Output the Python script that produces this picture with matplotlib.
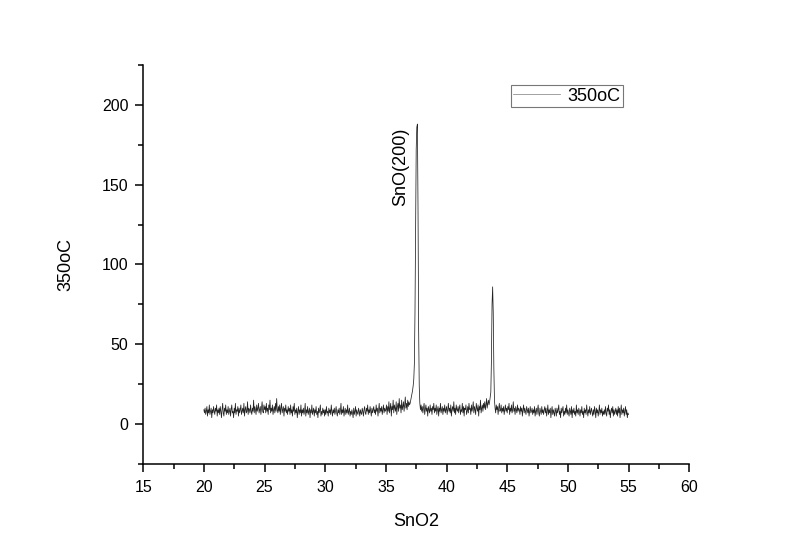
import numpy as np
import matplotlib
matplotlib.use("Agg")
import matplotlib.pyplot as plt
from matplotlib.ticker import MultipleLocator

plt.rcParams["font.family"] = ["Liberation Sans", "DejaVu Sans"]

# XRD scan, 20..55 deg, step 0.05 (one row per degree)
two_theta_start = 20.0
two_theta_step = 0.05
intensity = [
    9, 7, 10, 6, 8, 11, 5, 9, 7, 12, 6, 8, 10, 4, 9, 7, 11, 8, 6, 10,        # 20
    8, 12, 5, 9, 7, 10, 6, 11, 8, 4, 9, 13, 7, 5, 10, 8, 12, 6, 9, 7,        # 21
    11, 6, 8, 10, 5, 9, 12, 7, 8, 4, 10, 7, 13, 6, 9, 8, 11, 5, 10, 7,       # 22
    9, 12, 6, 8, 10, 7, 13, 5, 9, 11, 7, 8, 14, 6, 10, 9, 7, 12, 8, 6,       # 23
    10, 8, 15, 7, 11, 9, 6, 12, 8, 10, 13, 7, 9, 11, 6, 10, 14, 8, 7, 12,    # 24
    9, 11, 7, 13, 8, 10, 6, 12, 9, 15, 7, 10, 8, 12, 6, 9, 11, 7, 13, 8,     # 25
    16, 9, 7, 11, 8, 12, 6, 10, 13, 7, 9, 11, 5, 10, 8, 12, 7, 9, 6, 11,     # 26
    8, 10, 6, 12, 7, 9, 5, 11, 8, 13, 6, 9, 7, 10, 4, 8, 11, 6, 9, 7,        # 27
    12, 5, 9, 7, 10, 6, 8, 13, 5, 9, 7, 11, 6, 8, 10, 4, 9, 7, 12, 6,        # 28
    8, 10, 5, 9, 7, 11, 6, 8, 4, 10, 7, 9, 12, 5, 8, 6, 10, 7, 9, 5,         # 29
    9, 6, 11, 7, 8, 5, 10, 7, 9, 6, 12, 8, 5, 9, 7, 10, 6, 8, 11, 7,         # 30
    5, 9, 7, 10, 6, 8, 13, 6, 9, 7, 11, 5, 8, 10, 6, 9, 7, 12, 6, 8,         # 31
    10, 5, 8, 6, 9, 7, 4, 10, 6, 8, 11, 5, 9, 7, 6, 10, 8, 5, 9, 7,          # 32
    6, 10, 8, 5, 9, 11, 7, 6, 10, 8, 12, 6, 9, 7, 11, 8, 5, 10, 7, 9,        # 33
    11, 7, 9, 6, 12, 8, 10, 5, 9, 13, 7, 10, 8, 11, 6, 9, 12, 7, 10, 8,      # 34
    9, 12, 6, 11, 8, 14, 7, 10, 13, 5, 11, 9, 15, 7, 12, 10, 8, 14, 6, 11,   # 35
    13, 8, 16, 10, 12, 7, 15, 9, 11, 14, 8, 12, 17, 10, 13, 9, 15, 11, 14, 12,  # 36
    13, 15, 17, 19, 21, 24, 28, 38, 70, 125, 172, 186, 188, 135, 60, 24, 13, 9, 12, 8,  # 37
    11, 7, 10, 13, 6, 9, 12, 8, 10, 5, 11, 9, 7, 12, 8, 10, 6, 11, 9, 13,    # 38
    7, 10, 8, 12, 6, 9, 11, 5, 10, 8, 13, 7, 9, 11, 6, 10, 8, 12, 7, 9,      # 39
    11, 6, 9, 13, 8, 10, 7, 12, 5, 9, 11, 8, 14, 7, 10, 6, 12, 9, 8, 11,     # 40
    7, 10, 12, 6, 9, 8, 13, 7, 11, 5, 10, 9, 12, 6, 8, 11, 7, 13, 9, 10,     # 41
    6, 12, 8, 10, 14, 7, 11, 9, 6, 13, 10, 8, 12, 5, 11, 9, 15, 7, 10, 12,   # 42
    8, 13, 10, 14, 9, 12, 16, 10, 13, 15, 12, 14, 17, 20, 40, 75, 86, 70, 35, 15,  # 43
    10, 7, 12, 9, 11, 6, 10, 13, 8, 9, 12, 7, 10, 8, 11, 6, 9, 12, 8, 10,    # 44
    7, 11, 9, 13, 6, 10, 8, 12, 7, 9, 14, 8, 10, 6, 11, 9, 7, 12, 8, 10,     # 45
    9, 6, 11, 8, 10, 5, 9, 12, 7, 10, 8, 6, 11, 9, 7, 10, 5, 8, 11, 7,       # 46
    8, 10, 6, 9, 7, 11, 5, 8, 10, 6, 9, 12, 7, 5, 10, 8, 6, 11, 7, 9,        # 47
    6, 9, 11, 7, 10, 5, 8, 12, 6, 9, 7, 10, 4, 8, 11, 6, 9, 7, 5, 10,        # 48
    8, 5, 10, 7, 9, 12, 6, 8, 4, 10, 7, 9, 11, 5, 8, 6, 10, 7, 12, 6,        # 49
    9, 7, 5, 10, 8, 6, 11, 4, 9, 7, 10, 6, 8, 5, 12, 7, 9, 6, 10, 8,         # 50
    5, 9, 7, 11, 6, 8, 4, 10, 7, 9, 6, 12, 8, 5, 9, 7, 11, 6, 8, 10,         # 51
    7, 5, 9, 6, 11, 8, 4, 10, 7, 9, 5, 8, 12, 6, 9, 7, 10, 5, 8, 6,          # 52
    9, 6, 11, 7, 5, 10, 8, 12, 6, 9, 4, 8, 10, 7, 11, 5, 9, 6, 8, 10,        # 53
    6, 9, 5, 11, 7, 10, 4, 8, 12, 6, 9, 7, 10, 5, 8, 11, 6, 9, 4, 7,         # 54
    6,                                                                       # 55
]
two_theta = two_theta_start + two_theta_step * np.arange(len(intensity))

series_label = "350oC"
peak_label = "SnO(200)"
peak_pos = (36.2, 161)

fig = plt.figure(figsize=(8.0, 5.58), dpi=100)
ax = fig.add_axes([0.179, 0.1685, 0.6825, 0.715])

ax.plot(two_theta, intensity, color="#222222", lw=0.55, label=series_label)

ax.set_xlim(15, 60)
ax.set_ylim(-25, 225)
ax.xaxis.set_major_locator(MultipleLocator(5))
ax.xaxis.set_minor_locator(MultipleLocator(2.5))
ax.yaxis.set_major_locator(MultipleLocator(50))
ax.yaxis.set_minor_locator(MultipleLocator(25))

ax.spines["top"].set_visible(False)
ax.spines["right"].set_visible(False)
for s in ("left", "bottom"):
    ax.spines[s].set_linewidth(1.1)
ax.tick_params(which="major", direction="out", length=6, width=1.1, labelsize=11.5)
ax.tick_params(axis="x", which="major", pad=5.5)
ax.tick_params(axis="y", which="major", pad=4.5)
ax.tick_params(which="minor", direction="out", length=3.5, width=1.1)

ax.set_xlabel("SnO2", fontsize=13, labelpad=13)
ax.set_ylabel("350oC", fontsize=13, labelpad=20)

ax.text(peak_pos[0], peak_pos[1], peak_label, rotation=90, fontsize=13,
        ha="center", va="center")

leg = ax.legend(loc="upper right", bbox_to_anchor=(0.879, 0.95), fontsize=13,
                frameon=True, fancybox=False, handlelength=2.6, borderpad=0.15,
                handletextpad=0.4, borderaxespad=0)
leg.get_frame().set_edgecolor("#555555")
leg.get_frame().set_linewidth(0.8)
leg.get_lines()[0].set_color("#888888")

fig.savefig("out.png", dpi=100)
